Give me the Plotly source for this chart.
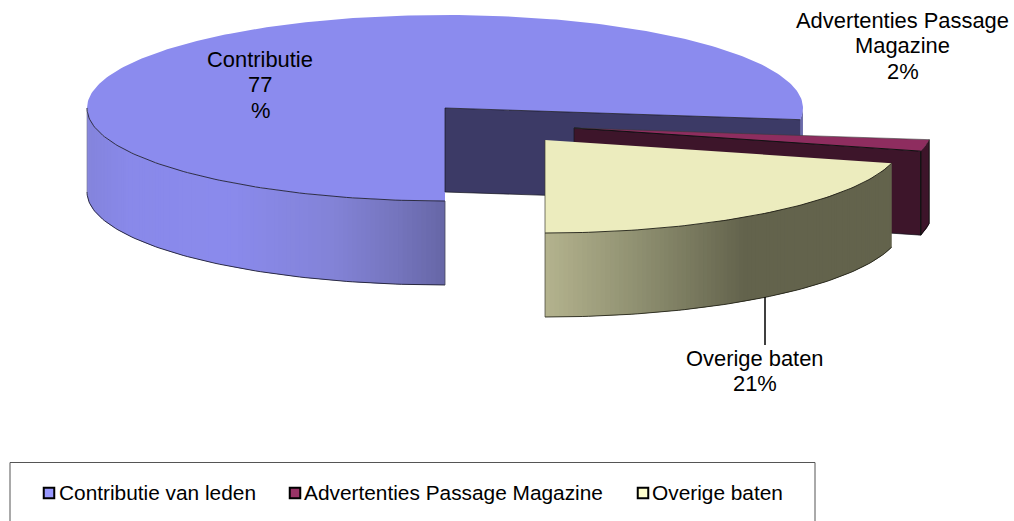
import math
import plotly.graph_objects as go

# --- data ---
categories = ["Contributie van leden", "Advertenties Passage Magazine", "Overige baten"]
values = [77, 2, 21]
label_names = ["Contributie", "Advertenties Passage\nMagazine", "Overige baten"]
label_values = ["77\n%", "2%", "21%"]

# --- style / projection ---
W, H = 1014, 521
RX, RY, DEPTH = 358, 93, 84
START = 180
centers = [(445, 108), (574, 128), (545, 140)]
top_colors = ["#8B8BEE", "#8E2D5F", "#ECECBE"]
wall_colors = ["#3C3A66", "#3D152A", "#64644C"]
legend_colors = ["#9999FF", "#993366", "#FFFFCC"]
side_stops = [
    [(87, "#8484DC"), (130, "#8989EA"), (230, "#8A8AEC"), (330, "#8383D8"), (400, "#7474BC"), (445, "#6666A6"), (810, "#6666A6")],
    [(0, "#3D152A"), (1014, "#3D152A")],
    [(545, "#B4B38E"), (640, "#8E8F70"), (745, "#63634C"), (900, "#63634C")],
]
label_pos = [(260, 59.5), (902.5, 20.5), (755, 358.5)]
LINE_H = 25.3
FONT = "Liberation Sans, Arial, sans-serif"
FS = 21.9
FS_LEG = 20.85
EDGE = "rgba(25,25,40,0.85)"


def pt(c, a, dy=0):
    r = math.radians(a)
    return c[0] + RX * math.sin(r), c[1] - RY * math.cos(r) + dy


def frange(a, b, step):
    n = max(1, int(round((b - a) / step)))
    return [a + (b - a) * i / n for i in range(n + 1)]


def hexrgb(h):
    return tuple(int(h[i:i + 2], 16) for i in (1, 3, 5))


def grad(stops, x):
    if x <= stops[0][0]:
        return stops[0][1]
    for (x0, c0), (x1, c1) in zip(stops, stops[1:]):
        if x <= x1:
            t = (x - x0) / (x1 - x0)
            a, b = hexrgb(c0), hexrgb(c1)
            return "#%02x%02x%02x" % tuple(round(a[i] + (b[i] - a[i]) * t) for i in range(3))
    return stops[-1][1]


fig = go.Figure()


def poly(xs, ys, fill, line=None, width=1):
    fig.add_trace(go.Scatter(
        x=xs, y=ys, mode="lines", fill="toself", fillcolor=fill,
        line=dict(color=line or fill, width=width if line else 0),
        hoverinfo="skip", showlegend=False))


def stroke(pts, color=EDGE, width=1):
    fig.add_trace(go.Scatter(
        x=[p[0] for p in pts], y=[p[1] for p in pts], mode="lines",
        line=dict(color=color, width=width), hoverinfo="skip", showlegend=False))


def side(i, a0, a1, step=0.75):
    """Side of a slice as overlapping strips, so no seams show between them."""
    c = centers[i]
    angs = frange(a0, a1, step)
    last = len(angs) - 1
    for k in range(last):
        u, v = angs[k], angs[k + 1]
        w = angs[min(k + 2, last)]  # strip reaches over the next one
        arc = [pt(c, x) for x in (u, v, w)]
        low = [(p[0], p[1] + DEPTH) for p in reversed(arc)]
        pts = arc + low + [arc[0]]
        mid = pt(c, (u + v) / 2)
        poly([p[0] for p in pts], [p[1] for p in pts], grad(side_stops[i], mid[0]))


def top(i, a0, a1):
    c = centers[i]
    arc = [pt(c, a) for a in frange(a0, a1, 1.0)]
    pts = [c] + arc + [c]
    poly([p[0] for p in pts], [p[1] for p in pts], top_colors[i])


def wall(i, a):
    c = centers[i]
    e = pt(c, a)
    xs = [c[0], e[0], e[0], c[0], c[0]]
    ys = [c[1], e[1], e[1] + DEPTH, c[1] + DEPTH, c[1]]
    poly(xs, ys, wall_colors[i])
    stroke([(c[0], c[1] + DEPTH), (c[0], c[1]), e], "rgba(20,20,30,0.7)")
    stroke([(c[0], c[1] + DEPTH), (e[0], e[1] + DEPTH)], "rgba(20,20,30,0.7)")


# slice angles follow directly from the values
angles = []
a = START
total = sum(values)
for v in values:
    angles.append((a, a + v / total * 360))
    a += v / total * 360

# Slice 1: the big one
a0, a1 = angles[0]
side(0, a0, 270)
side(0, 360 + 90, a1)
top(0, a0, a1)
wall(0, a1)
stroke([pt(centers[0], x) for x in frange(a0, 270, 1.0)])
stroke([pt(centers[0], x, DEPTH) for x in frange(a0, 270, 1.0)])
stroke([pt(centers[0], 270), pt(centers[0], 270, DEPTH)], "rgba(110,110,140,0.6)")
stroke([pt(centers[0], a0), pt(centers[0], a0, DEPTH)], "rgba(70,70,90,0.8)")

# Slice 2: the thin exploded wedge
a0, a1 = angles[1]
c = centers[1]
e0, e1 = pt(c, a0), pt(c, a1)
wall(1, a1)
side(1, a0, a1)
stroke([e0, e1, (e1[0], e1[1] + DEPTH), (e0[0], e0[1] + DEPTH), e0], "#111111")
stroke([e1, (e1[0], e1[1] + DEPTH)], "#111111")
top(1, a0, a1)
stroke([c, e1], "#111111")
stroke([c, e0], "rgba(60,60,60,0.6)")

# Slice 3
a0, a1 = angles[2]
c = centers[2]
side(2, a0, a1)
top(2, a0, a1)
stroke([pt(c, x) for x in frange(a0, a1, 1.0)], "rgba(30,30,20,0.9)")
stroke([pt(c, x, DEPTH) for x in frange(a0, a1, 1.0)], "rgba(30,30,20,0.85)")
stroke([c, (c[0], c[1] + RY + DEPTH)], "rgba(60,60,50,0.7)")

# leader line
stroke([(765, 297), (765, 345)], "#000000", 1.5)

annotations = []


def text(x, y, s, anchor="center", size=FS):
    annotations.append(dict(x=x, y=y, text=s, showarrow=False, xanchor=anchor, yanchor="middle",
                            font=dict(family=FONT, size=size, color="#000000"), xref="x", yref="y"))


for (x, y), nm, val in zip(label_pos, label_names, label_values):
    for k, line in enumerate((nm + "\n" + val).split("\n")):
        text(x, y + k * LINE_H, line)

# legend
legend_marks = [49, 295, 643]
legend_text = [56.5, 301.5, 649.5]
LEG_Y = 493
for mx, tx, col, cat in zip(legend_marks, legend_text, legend_colors, categories):
    fig.add_trace(go.Scatter(x=[mx], y=[LEG_Y], mode="markers",
                             marker=dict(symbol="square", size=10.5, color=col, line=dict(color="#000000", width=2)),
                             hoverinfo="skip", showlegend=False))
    text(tx, LEG_Y - 0.7, cat, "left", FS_LEG)

fig.update_layout(
    width=W, height=H, autosize=False,
    margin=dict(l=0, r=0, t=0, b=0),
    paper_bgcolor="#FFFFFF", plot_bgcolor="#FFFFFF",
    xaxis=dict(range=[0, W], visible=False, fixedrange=True),
    yaxis=dict(range=[H, 0], visible=False, fixedrange=True),
    annotations=annotations,
    shapes=[dict(type="rect", xref="x", yref="y", x0=10, y0=462.5, x1=815, y1=522,
                 line=dict(color="#555555", width=1), layer="below")],
)
fig.write_html("out.html", config={"displayModeBar": False},
               post_script="document.body.style.margin='0';")
